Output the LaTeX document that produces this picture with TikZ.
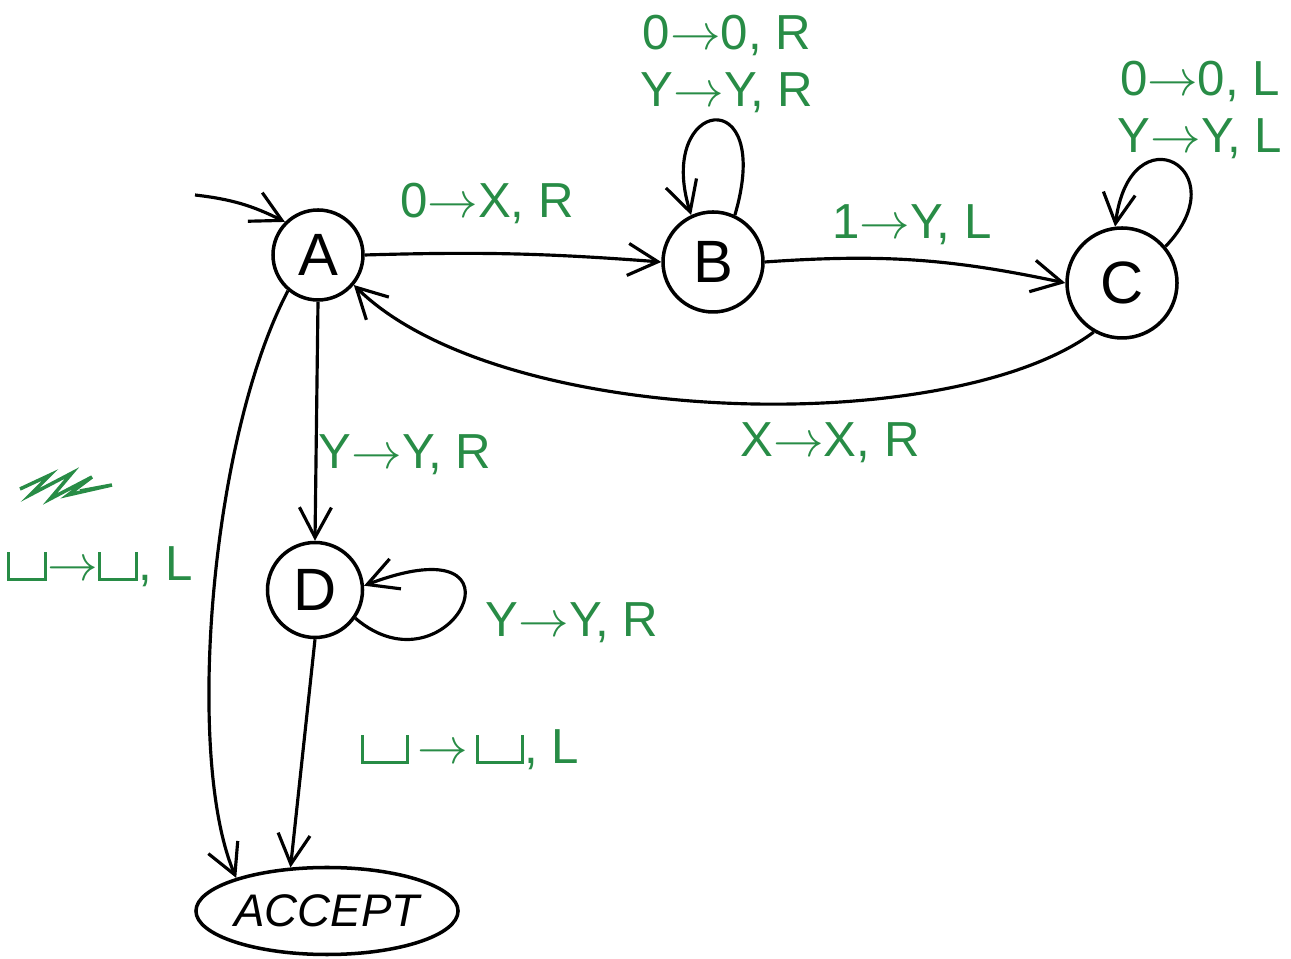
\documentclass[tikz,border=0pt]{standalone}
\usepackage{fontspec}
\setmainfont{Liberation Sans}
\usetikzlibrary{arrows.meta,shapes.geometric}
\definecolor{tmgreen}{RGB}{40,140,70}
\newcommand{\blanksym}[1][0.42cm]{\rule{0.9pt}{1.1ex}\rule{#1}{0.9pt}\rule{0.9pt}{1.1ex}}

\begin{document}
\begin{tikzpicture}[
  state/.style={draw,circle,line width=1pt,minimum size=9mm,inner sep=0pt,font=\fontsize{17}{19}\selectfont},
  trans/.style={-{Straight Barb[length=3mm,width=3.2mm]},line width=0.9pt},
  lbl/.style={text=tmgreen,font=\fontsize{14}{16}\selectfont,align=center}]
\useasboundingbox (0,0) rectangle (12.91,9.59);

\node[state] (A) at (3.18,7.04) {A};
\node[state,minimum size=10mm] (B) at (7.13,6.97) {B};
\node[state,minimum size=11mm] (C) at (11.22,6.76) {C};
\node[state,minimum size=9.5mm] (D) at (3.15,3.69) {D};
\node[draw,ellipse,line width=1pt,minimum width=2.47cm,minimum height=0.87cm,inner sep=0pt,
      font=\fontsize{13}{15}\selectfont\itshape] (acc) at (3.27,0.48) {ACCEPT};
\coordinate (start) at (1.95,7.64);

\draw[trans] (start) to[bend left=10] (A.135);
\draw[trans] (A.east) to[bend left=3] (B.west);
\draw[trans] (B.east) to[bend left=8] (C.west);
\draw[trans] (C.240) .. controls (9.5,5.2) and (5.0,5.3) .. (A.-40);
\draw[trans] (B.65) .. controls (7.75,8.8) and (6.55,8.6) .. (B.115);
\draw[trans] (C.40) .. controls (12.4,7.9) and (11.3,8.5) .. (C.97);
\draw[trans] (A.south) -- (D.north);
\draw[trans] (D.-35) .. controls (4.5,2.6) and (5.4,4.4) .. (D.5);
\draw[trans] (D.south) -- (acc.130);
\draw[trans] (A.230) .. controls (2.1,5.2) and (1.85,2.0) .. (acc.160);

\node[lbl] (lab) at (4.87,7.56) {0$\rightarrow$X, R};
\node[lbl] (lbc) at (9.12,7.34) {1$\rightarrow$Y, L};
\node[lbl] (lca) at (8.3,5.16) {X$\rightarrow$X, R};
\node[lbl] (lbb) at (7.27,8.95) {0$\rightarrow$0, R\\Y$\rightarrow$Y, R};
\node[lbl] (lcc) at (12.0,8.49) {0$\rightarrow$0, L\\Y$\rightarrow$Y, L};
\node[lbl] (lad) at (4.05,5.04) {Y$\rightarrow$Y, R};
\node[lbl] (ldd) at (5.72,3.36) {Y$\rightarrow$Y, R};
\node[lbl] (lda) at (4.7,2.09) {\blanksym\,$\rightarrow$\,\blanksym, L};
\node[lbl] (laa) at (1.0,3.92) {\blanksym[0.34cm]$\rightarrow$\blanksym[0.34cm], L};

\draw[tmgreen,line width=1pt] (0.2,4.7) -- (0.5,4.84) -- (0.3,4.64) -- (0.72,4.86)
  -- (0.5,4.6) -- (0.92,4.82) -- (0.68,4.64) -- (1.12,4.74) -- (0.8,4.68);
\end{tikzpicture}
\end{document}
